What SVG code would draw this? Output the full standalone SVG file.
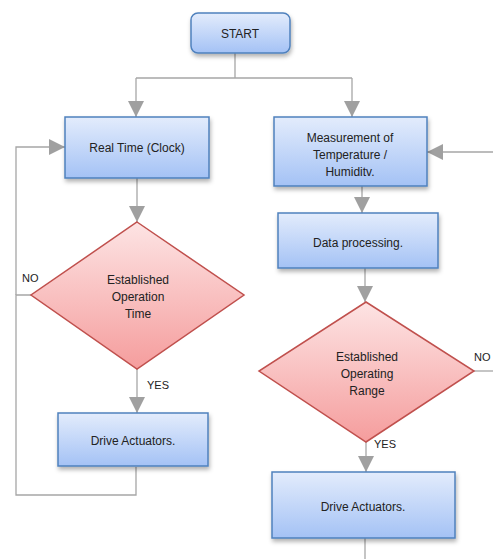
<svg xmlns="http://www.w3.org/2000/svg" width="493" height="559" viewBox="0 0 493 559">
<style>
.box{fill:url(#gb);stroke:#4f81bd;stroke-width:1.5;filter:url(#sh)}
.dia{fill:url(#gr);stroke:#c0504d;stroke-width:1.5}
.lbl{font-family:"Liberation Sans",Arial,sans-serif;font-size:12px;fill:#222;text-anchor:middle}
.sm{font-family:"Liberation Sans",Arial,sans-serif;font-size:11px;fill:#222}
.ln{fill:none;stroke:#a6a6a6;stroke-width:1.3}
</style>
<defs>
<linearGradient id="gb" x1="0" y1="0" x2="0" y2="1"><stop offset="0" stop-color="#e3ecfc"/><stop offset="1" stop-color="#a4c2f5"/></linearGradient>
<linearGradient id="gr" x1="0" y1="0" x2="0" y2="1"><stop offset="0" stop-color="#fde4e4"/><stop offset="1" stop-color="#f59d9d"/></linearGradient>
<filter id="sh" x="-10%" y="-10%" width="130%" height="140%"><feDropShadow dx="1" dy="3" stdDeviation="2" flood-color="#000" flood-opacity="0.3"/></filter>
<marker id="ah" markerUnits="userSpaceOnUse" markerWidth="16" markerHeight="16" refX="16" refY="8" orient="auto"><path d="M0,0 L16,8 L0,16 Z" fill="#a0a0a0"/></marker>
</defs>
<g id="connectors">
<path class="ln" d="M235,53 V78 M136,78 H352"/>
<path class="ln" d="M136,78 V117" marker-end="url(#ah)"/>
<path class="ln" d="M352,78 V117" marker-end="url(#ah)"/>
<path class="ln" d="M137,178 V222" marker-end="url(#ah)"/>
<path class="ln" d="M137,369 V413" marker-end="url(#ah)"/>
<path class="ln" d="M31,295 H16 V495 H136 V467"/>
<path class="ln" d="M16,295 V147 H65" marker-end="url(#ah)"/>
<path class="ln" d="M362,186 V213" marker-end="url(#ah)"/>
<path class="ln" d="M365,268 V302" marker-end="url(#ah)"/>
<path class="ln" d="M474,371 H493"/>
<path class="ln" d="M493,152 H427" marker-end="url(#ah)"/>
<path class="ln" d="M366,442 V472" marker-end="url(#ah)"/>
<path class="ln" d="M365,538 V559"/>
<text class="sm" x="22" y="282">NO</text>
<text class="sm" x="147" y="389">YES</text>
<text class="sm" x="474" y="361">NO</text>
<text class="sm" x="374" y="448">YES</text>
</g>
<g id="start"><rect class="box" x="191" y="13" width="99" height="40" rx="7"/><text class="lbl" x="240" y="38">START</text></g>
<g id="realtime"><rect class="box" x="65" y="117" width="144" height="61"/><text class="lbl" x="137" y="152">Real Time (Clock)</text></g>
<g id="decision1"><path class="dia" d="M137,222 L244,295 L137,369 L31,295 Z"/><text class="lbl" x="138" y="284">Established</text><text class="lbl" x="138" y="301">Operation</text><text class="lbl" x="138" y="318">Time</text></g>
<g id="drive1"><rect class="box" x="58" y="413" width="150" height="53"/><text class="lbl" x="133" y="445">Drive Actuators.</text></g>
<g id="measure"><rect class="box" x="274" y="117" width="153" height="69"/><text class="lbl" x="350" y="142">Measurement of</text><text class="lbl" x="350" y="159">Temperature /</text><text class="lbl" x="350" y="176">Humiditv.</text></g>
<g id="dataproc"><rect class="box" x="278" y="213" width="160" height="55"/><text class="lbl" x="358" y="247">Data processing.</text></g>
<g id="decision2"><path class="dia" d="M366,302 L474,371 L366,442 L259,371 Z"/><text class="lbl" x="367" y="361">Established</text><text class="lbl" x="367" y="378">Operating</text><text class="lbl" x="367" y="395">Range</text></g>
<g id="drive2"><rect class="box" x="272" y="472" width="183" height="66"/><text class="lbl" x="363" y="511">Drive Actuators.</text></g>
</svg>
